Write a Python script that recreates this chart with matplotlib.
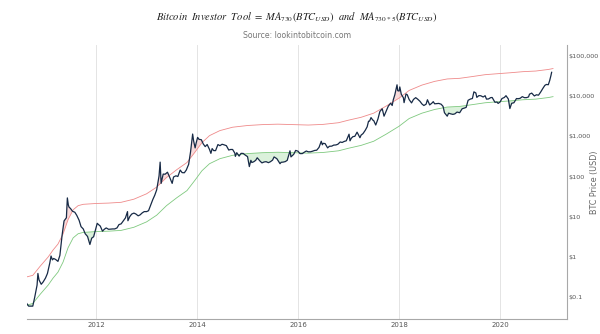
import numpy as np
import pandas as pd
import matplotlib
matplotlib.use('Agg')
import matplotlib.pyplot as plt
import matplotlib.dates as mdates
from matplotlib.ticker import FixedLocator, FuncFormatter

# precio BTC (USD)
fechas_precio = [
    '2010-08-18', '2010-09-01', '2010-09-15', '2010-10-01', '2010-10-15', '2010-11-01', '2010-11-07',
    '2010-11-15', '2010-12-01', '2010-12-15', '2011-01-01', '2011-01-15', '2011-02-01', '2011-02-10',
    '2011-02-20', '2011-03-01', '2011-03-15', '2011-04-01', '2011-04-15', '2011-05-01', '2011-05-15',
    '2011-06-01', '2011-06-08', '2011-06-15', '2011-06-20', '2011-07-01', '2011-07-15', '2011-08-01',
    '2011-08-15', '2011-09-01', '2011-09-15', '2011-10-01', '2011-10-15', '2011-11-01', '2011-11-18',
    '2011-12-01', '2011-12-15', '2012-01-01', '2012-01-10', '2012-01-20', '2012-02-01', '2012-02-17',
    '2012-03-01', '2012-03-15', '2012-04-01', '2012-04-15', '2012-05-01', '2012-05-15', '2012-06-01',
    '2012-06-15', '2012-07-01', '2012-07-15', '2012-08-01', '2012-08-16', '2012-08-19', '2012-09-01',
    '2012-09-15', '2012-10-01', '2012-10-15', '2012-11-01', '2012-11-15', '2012-12-01', '2012-12-15',
    '2013-01-01', '2013-01-15', '2013-02-01', '2013-02-15', '2013-03-01', '2013-03-15', '2013-04-01',
    '2013-04-09', '2013-04-16', '2013-05-01', '2013-05-15', '2013-06-01', '2013-06-15', '2013-07-05',
    '2013-07-15', '2013-08-01', '2013-08-15', '2013-09-01', '2013-09-15', '2013-10-01', '2013-10-15',
    '2013-11-01', '2013-11-15', '2013-11-30', '2013-12-07', '2013-12-18', '2013-12-25', '2014-01-05',
    '2014-01-15', '2014-02-01', '2014-02-15', '2014-03-01', '2014-03-15', '2014-04-01', '2014-04-11',
    '2014-04-20', '2014-05-01', '2014-05-15', '2014-06-01', '2014-06-15', '2014-07-01', '2014-07-15',
    '2014-08-01', '2014-08-18', '2014-09-01', '2014-09-15', '2014-10-01', '2014-10-05', '2014-10-15',
    '2014-11-01', '2014-11-15', '2014-12-01', '2014-12-15', '2015-01-01', '2015-01-14', '2015-01-25',
    '2015-02-01', '2015-02-15', '2015-03-01', '2015-03-12', '2015-04-01', '2015-04-15', '2015-05-01',
    '2015-05-15', '2015-06-01', '2015-06-15', '2015-07-01', '2015-07-12', '2015-08-01', '2015-08-24',
    '2015-09-01', '2015-09-15', '2015-10-01', '2015-10-15', '2015-11-04', '2015-11-11', '2015-12-01',
    '2015-12-15', '2016-01-01', '2016-01-15', '2016-02-01', '2016-02-15', '2016-03-01', '2016-03-15',
    '2016-04-01', '2016-04-15', '2016-05-01', '2016-05-15', '2016-06-01', '2016-06-17', '2016-06-25',
    '2016-07-01', '2016-07-15', '2016-08-02', '2016-08-15', '2016-09-01', '2016-09-15', '2016-10-01',
    '2016-10-15', '2016-11-01', '2016-11-15', '2016-12-01', '2016-12-15', '2017-01-04', '2017-01-11',
    '2017-01-20', '2017-02-01', '2017-02-15', '2017-03-03', '2017-03-24', '2017-04-01', '2017-04-15',
    '2017-05-01', '2017-05-15', '2017-05-25', '2017-06-01', '2017-06-12', '2017-06-25', '2017-07-01',
    '2017-07-16', '2017-08-01', '2017-08-15', '2017-09-01', '2017-09-14', '2017-10-01', '2017-10-15',
    '2017-11-01', '2017-11-12', '2017-11-20', '2017-12-01', '2017-12-17', '2017-12-22', '2018-01-01',
    '2018-01-06', '2018-01-17', '2018-02-01', '2018-02-06', '2018-02-20', '2018-03-01', '2018-03-15',
    '2018-04-01', '2018-04-15', '2018-05-01', '2018-05-15', '2018-06-01', '2018-06-15', '2018-06-29',
    '2018-07-15', '2018-07-25', '2018-08-10', '2018-08-25', '2018-09-05', '2018-09-15', '2018-10-01',
    '2018-10-15', '2018-11-01', '2018-11-15', '2018-11-25', '2018-12-15', '2018-12-25', '2019-01-10',
    '2019-01-25', '2019-02-08', '2019-02-24', '2019-03-15', '2019-04-02', '2019-04-15', '2019-05-01',
    '2019-05-15', '2019-06-01', '2019-06-15', '2019-06-26', '2019-07-10', '2019-07-17', '2019-08-01',
    '2019-08-15', '2019-09-01', '2019-09-15', '2019-09-25', '2019-10-10', '2019-10-25', '2019-11-05',
    '2019-11-25', '2019-12-10', '2019-12-18', '2020-01-01', '2020-01-15', '2020-02-01', '2020-02-13',
    '2020-03-01', '2020-03-12', '2020-03-25', '2020-04-10', '2020-04-29', '2020-05-10', '2020-05-25',
    '2020-06-10', '2020-06-25', '2020-07-10', '2020-07-25', '2020-08-01', '2020-08-17', '2020-09-05',
    '2020-09-20', '2020-10-05', '2020-10-21', '2020-11-05', '2020-11-20', '2020-12-01', '2020-12-15',
    '2020-12-25', '2021-01-03', '2021-01-08',
]
precios = [
    0.07, 0.06, 0.06, 0.06, 0.10, 0.20, 0.39,
    0.27, 0.21, 0.24, 0.30, 0.39, 0.71, 1.06,
    0.85, 0.92, 0.87, 0.78, 1.10, 3.5, 7.9,
    9.5, 29.6, 19.8, 17.5, 16.1, 13.8, 13.0,
    10.9, 8.2, 5.7, 5.0, 3.8, 3.25, 2.05,
    2.95, 3.2, 5.3, 6.9, 6.4, 5.9, 4.4,
    4.9, 5.3, 4.9, 4.95, 5.0, 5.0, 5.3,
    6.4, 6.7, 7.8, 9.4, 13.5, 8.0, 10.1,
    11.7, 12.4, 11.8, 10.6, 11.2, 12.6, 13.5,
    13.5, 14.2, 20.4, 27.0, 34.5, 47, 104,
    230, 68, 116, 115, 129, 100, 68,
    98, 105, 101, 146, 126, 125, 146,
    202, 418, 1150, 780, 520, 680, 950,
    850, 830, 650, 560, 630, 475, 380,
    500, 445, 445, 630, 590, 640, 620,
    590, 460, 475, 475, 385, 320, 395,
    325, 380, 378, 345, 315, 178, 255,
    225, 235, 255, 295, 245, 220, 232,
    236, 223, 235, 258, 310, 280, 210,
    228, 230, 237, 255, 440, 310, 360,
    450, 430, 375, 375, 405, 435, 415,
    416, 430, 450, 455, 535, 760, 620,
    675, 665, 520, 570, 575, 610, 615,
    640, 730, 710, 755, 780, 1140, 780,
    900, 990, 1010, 1280, 930, 1080, 1180,
    1420, 1740, 2400, 2400, 2950, 2550, 2500,
    1930, 2720, 4180, 4900, 3200, 4400, 5700,
    6750, 5900, 8200, 10900, 19300, 13800, 13500,
    17100, 11200, 9200, 6950, 11400, 10900, 8250,
    6850, 8350, 9250, 8500, 7500, 6450, 5900,
    6350, 8200, 6100, 6700, 7350, 6500, 6600,
    6650, 6350, 5600, 3900, 3200, 3800, 3650,
    3550, 3650, 4050, 3900, 4900, 5050, 5300,
    7950, 8550, 8800, 12900, 12100, 9400, 10400,
    10300, 9600, 10350, 8500, 8600, 9250, 9350,
    7100, 7200, 6650, 7200, 8800, 9350, 10350,
    8550, 4950, 6700, 6900, 8800, 8700, 8900,
    9800, 9250, 9250, 9650, 11300, 12000, 10200,
    10900, 10650, 12800, 15600, 18700, 19700, 19400,
    24700, 32800, 39500,
]

# media movil de 730 dias y su multiplo x5
fechas_ma = [
    '2010-08-18', '2010-10-01', '2010-11-25', '2011-01-20', '2011-02-25', '2011-04-01', '2011-05-08',
    '2011-06-13', '2011-07-20', '2011-08-25', '2011-10-01', '2012-01-01', '2012-04-01', '2012-07-01',
    '2012-10-01', '2013-01-01', '2013-03-15', '2013-05-25', '2013-08-08', '2013-10-20', '2013-12-15',
    '2014-02-05', '2014-04-01', '2014-06-15', '2014-09-15', '2015-01-01', '2015-04-20', '2015-08-08',
    '2015-11-25', '2016-03-15', '2016-07-01', '2016-10-20', '2017-01-01', '2017-04-01', '2017-07-01',
    '2017-10-01', '2018-01-01', '2018-03-15', '2018-06-15', '2018-09-15', '2018-12-15', '2019-03-15',
    '2019-06-15', '2019-09-15', '2019-12-15', '2020-03-15', '2020-06-15', '2020-09-15', '2020-12-15',
    '2021-01-18',
]
ma730 = [
    0.063, 0.07, 0.12, 0.2, 0.3, 0.42, 0.75,
    1.7, 3.0, 3.8, 4.1, 4.3, 4.4, 4.6,
    5.5, 7.5, 11, 19, 30, 45, 80,
    140, 210, 280, 340, 375, 395, 405,
    395, 385, 400, 440, 510, 600, 760,
    1150, 1800, 2800, 3800, 4700, 5400, 5600,
    6200, 6900, 7300, 7700, 8200, 8500, 9300,
    9800,
]
ma730x5 = [
    0.32, 0.35, 0.6, 1.0, 1.5, 2.1, 3.75,
    8.5, 15, 19, 20.5, 21.5, 22, 23,
    27.5, 37.5, 55, 95, 150, 225, 400,
    700, 1050, 1400, 1700, 1875, 1975, 2025,
    1975, 1925, 2000, 2200, 2550, 3000, 3800,
    5750, 9000, 14000, 19000, 23500, 27000, 28000,
    31000, 34500, 36500, 38500, 41000, 42500, 46500,
    49000,
]

etiquetas_y = ['$0.1', '$1', '$10', '$100', '$1,000', '$10,000', '$100,000']
valores_y = [0.1, 1, 10, 100, 1000, 10000, 100000]
anyos_x = [2012, 2014, 2016, 2018, 2020]

fp = pd.to_datetime(fechas_precio)
fm = pd.to_datetime(fechas_ma)

fig = plt.figure(figsize=(6, 3.34), dpi=100)
ax = fig.add_axes([0.0445, 0.044, 0.9, 0.821])

# zonas sombreadas: precio por debajo de la media (verde) y por encima de x5 (rojo)
xp = mdates.date2num(fp)
xm = mdates.date2num(fm)
verde_en_p = 10 ** np.interp(xp, xm, np.log10(ma730))
rojo_en_p = 10 ** np.interp(xp, xm, np.log10(ma730x5))
p = np.array(precios)
ax.fill_between(fp, p, verde_en_p, where=p < verde_en_p, color='#cdeccd', alpha=0.7,
                linewidth=0, interpolate=True)
ax.fill_between(fp, p, rojo_en_p, where=p > rojo_en_p, color='#f6cccc', alpha=0.7,
                linewidth=0, interpolate=True)

ax.plot(fm, ma730x5, color='#ef8a8a', linewidth=0.6)
ax.plot(fm, ma730, color='#7fc97f', linewidth=0.6)
ax.plot(fp, precios, color='#172a46', linewidth=0.9)

ax.set_yscale('log')
ax.set_ylim(0.0282, 188000)
ax.set_xlim(pd.Timestamp('2010-08-18'), pd.Timestamp('2021-04-27'))

ax.yaxis.tick_right()
ax.yaxis.set_label_position('right')
ax.yaxis.set_major_locator(FixedLocator(valores_y))
ax.yaxis.set_major_formatter(FuncFormatter(lambda v, pos: etiquetas_y[valores_y.index(v)] if v in valores_y else ''))
ax.yaxis.set_minor_locator(FixedLocator([]))
ax.tick_params(axis='y', length=0, pad=1.5, labelsize=4.6, labelcolor='#555555')

ax.set_xticks([pd.Timestamp(f'{a}-01-01') for a in anyos_x])
ax.set_xticklabels([str(a) for a in anyos_x])
ax.tick_params(axis='x', length=0, pad=2, labelsize=5, labelcolor='#555555')
ax.grid(axis='x', color='#e4e4e4', linewidth=0.7)
ax.set_axisbelow(True)

for lado in ['top', 'left']:
    ax.spines[lado].set_visible(False)
for lado in ['right', 'bottom']:
    ax.spines[lado].set_color('#a8a8a8')
    ax.spines[lado].set_linewidth(0.8)

ax.set_ylabel('BTC Price (USD)', fontsize=5.8, color='#666666', rotation=90)
ax.yaxis.set_label_coords(1.043, 0.5)

plt.rcParams['mathtext.fontset'] = 'stix'
fig.text(0.495, 0.948,
         r'$Bitcoin\ \ Investor\ \ Tool\ =\ MA_{730}(BTC_{USD})\ \ and\ \ MA_{730*5}(BTC_{USD})$',
         ha='center', va='center', fontsize=7.6, color='#222222')
fig.text(0.495, 0.895, 'Source: lookintobitcoin.com', ha='center', va='center',
         fontsize=5.6, color='#777777')

fig.savefig('out.png', dpi=100)
